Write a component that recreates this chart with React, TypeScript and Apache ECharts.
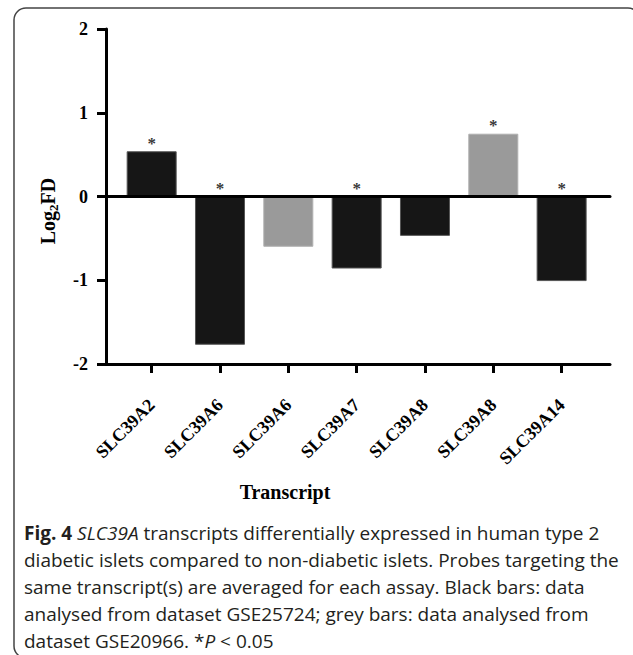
import React, { useEffect, useRef } from 'react';
import * as echarts from 'echarts';

// ---- data ----
const categories = ['SLC39A2', 'SLC39A6', 'SLC39A6', 'SLC39A7', 'SLC39A8', 'SLC39A8', 'SLC39A14'];
const log2FD = [0.54, -1.77, -0.6, -0.86, -0.47, 0.75, -1.01];
const datasets = ['GSE25724', 'GSE25724', 'GSE20966', 'GSE25724', 'GSE25724', 'GSE20966', 'GSE25724'];
const significant = [true, true, false, true, false, true, true];
const yMin = -2;
const yMax = 2;
const yInterval = 1;
const xTitle = 'Transcript';
const captionLines = [
  '{b|Fig. 4} {i|SLC39A} transcripts differentially expressed in human type 2',
  'diabetic islets compared to non-diabetic islets. Probes targeting the',
  'same transcript(s) are averaged for each assay. Black bars: data',
  'analysed from dataset GSE25724; grey bars: data analysed from',
  'dataset GSE20966. *{i|P} < 0.05',
];

const datasetColor: Record<string, string> = { GSE25724: '#161616', GSE20966: '#9a9a9a' };
const datasetBorder: Record<string, string> = { GSE25724: '#555555', GSE20966: '#b0b0b0' };

const SERIF = '"Liberation Serif", "Times New Roman", serif';
const SANS = '"Open Sans", "Noto Sans", sans-serif';

export default function App() {
  const ref = useRef<HTMLDivElement>(null);
  useEffect(() => {
    document.body.style.margin = '0';
    if (!ref.current) return;
    const chart = echarts.init(ref.current, null, { renderer: 'svg' });

    const captionGraphics = captionLines.map((line, i) => ({
      type: 'text',
      x: 24,
      y: 533 + i * 27,
      z: 10,
      style: {
        text: line,
        fontFamily: SANS,
        fontSize: 19,
        fill: '#231f20',
        verticalAlign: 'middle',
        align: 'left',
        rich: {
          b: { fontFamily: SANS, fontSize: 19, fontWeight: 'bold', fill: '#231f20' },
          i: { fontFamily: SANS, fontSize: 19, fontStyle: 'italic', fill: '#231f20' },
        },
      },
    }));

    const option: any = {
      animation: false,
      backgroundColor: '#ffffff',
      grid: [
        { left: 117.5, top: 29, width: 478.3, height: 335 },
        { left: 106, top: 29, right: 23, height: 335 },
      ],
      xAxis: [
        {
          type: 'category',
          gridIndex: 0,
          data: categories,
          axisLine: { show: false, onZero: false },
          axisTick: { show: true, alignWithLabel: true, length: 9, lineStyle: { color: '#000', width: 3 } },
          axisLabel: {
            rotate: 45,
            interval: 0,
            margin: 38,
            padding: [34, 0, 0, 0],
            fontFamily: SERIF,
            fontWeight: 'bold',
            fontSize: 18,
            color: '#000000',
          },
          splitLine: { show: false },
        },
        {
          type: 'value',
          gridIndex: 1,
          min: 0,
          max: 1,
          position: 'bottom',
          axisLine: { show: true, onZero: false, lineStyle: { color: '#000', width: 3 } },
          axisTick: { show: false },
          axisLabel: { show: false },
          splitLine: { show: false },
        },
        {
          type: 'value',
          gridIndex: 1,
          min: 0,
          max: 1,
          position: 'top',
          z: 5,
          axisLine: { show: true, onZero: true, lineStyle: { color: '#000', width: 3 } },
          axisTick: { show: false },
          axisLabel: { show: false },
          splitLine: { show: false },
        },
      ],
      yAxis: [
        { type: 'value', gridIndex: 0, min: yMin, max: yMax, show: false },
        {
          type: 'value',
          gridIndex: 1,
          min: yMin,
          max: yMax,
          interval: yInterval,
          axisLine: { show: true, onZero: false, lineStyle: { color: '#000', width: 3 } },
          axisTick: { show: true, length: 9, lineStyle: { color: '#000', width: 3 } },
          axisLabel: {
            margin: 18,
            padding: [7, 0, 0, 0],
            fontFamily: SERIF,
            fontWeight: 'bold',
            fontSize: 18,
            color: '#000000',
          },
          splitLine: { show: false },
        },
      ],
      series: [
        {
          type: 'bar',
          xAxisIndex: 0,
          yAxisIndex: 0,
          barWidth: 50,
          data: log2FD.map((v, i) => ({
            value: v,
            itemStyle: { color: datasetColor[datasets[i]], borderColor: datasetBorder[datasets[i]], borderWidth: 1 },
          })),
        },
        {
          type: 'scatter',
          xAxisIndex: 0,
          yAxisIndex: 0,
          symbolSize: 1,
          itemStyle: { color: 'rgba(0,0,0,0)' },
          data: log2FD.map((v, i) => (significant[i] ? [i, Math.max(v, 0)] : [i, '-'])),
          label: {
            show: true,
            position: 'top',
            distance: 0,
            offset: [0, 1],
            formatter: '*',
            fontFamily: SERIF,
            fontWeight: 'bold',
            fontSize: 17,
            color: '#000000',
          },
        },
      ],
      graphic: [
        {
          type: 'rect',
          z: 0,
          shape: { x: 14, y: 8, width: 626, height: 650, r: 12 },
          style: { fill: 'none', stroke: '#444', lineWidth: 1.5 },
        },
        {
          type: 'text',
          x: 48,
          y: 211,
          rotation: Math.PI / 2,
          z: 10,
          style: {
            text: '{a|Log}{s|2}{a|FD}',
            align: 'center',
            verticalAlign: 'middle',
            fill: '#000',
            rich: {
              a: { fontFamily: SERIF, fontWeight: 'bold', fontSize: 20, lineHeight: 24, fill: '#000' },
              s: { fontFamily: SERIF, fontWeight: 'bold', fontSize: 13, lineHeight: 13, verticalAlign: 'bottom', fill: '#000' },
            },
          },
        },
        {
          type: 'text',
          x: 285,
          y: 492,
          z: 10,
          style: {
            text: xTitle,
            fontFamily: SERIF,
            fontWeight: 'bold',
            fontSize: 20,
            fill: '#000',
            align: 'center',
            verticalAlign: 'middle',
          },
        },
        ...captionGraphics,
      ],
    };
    chart.setOption(option);
    return () => chart.dispose();
  }, []);
  return <div ref={ref} style={{ width: 633, height: 655 }} />;
}
